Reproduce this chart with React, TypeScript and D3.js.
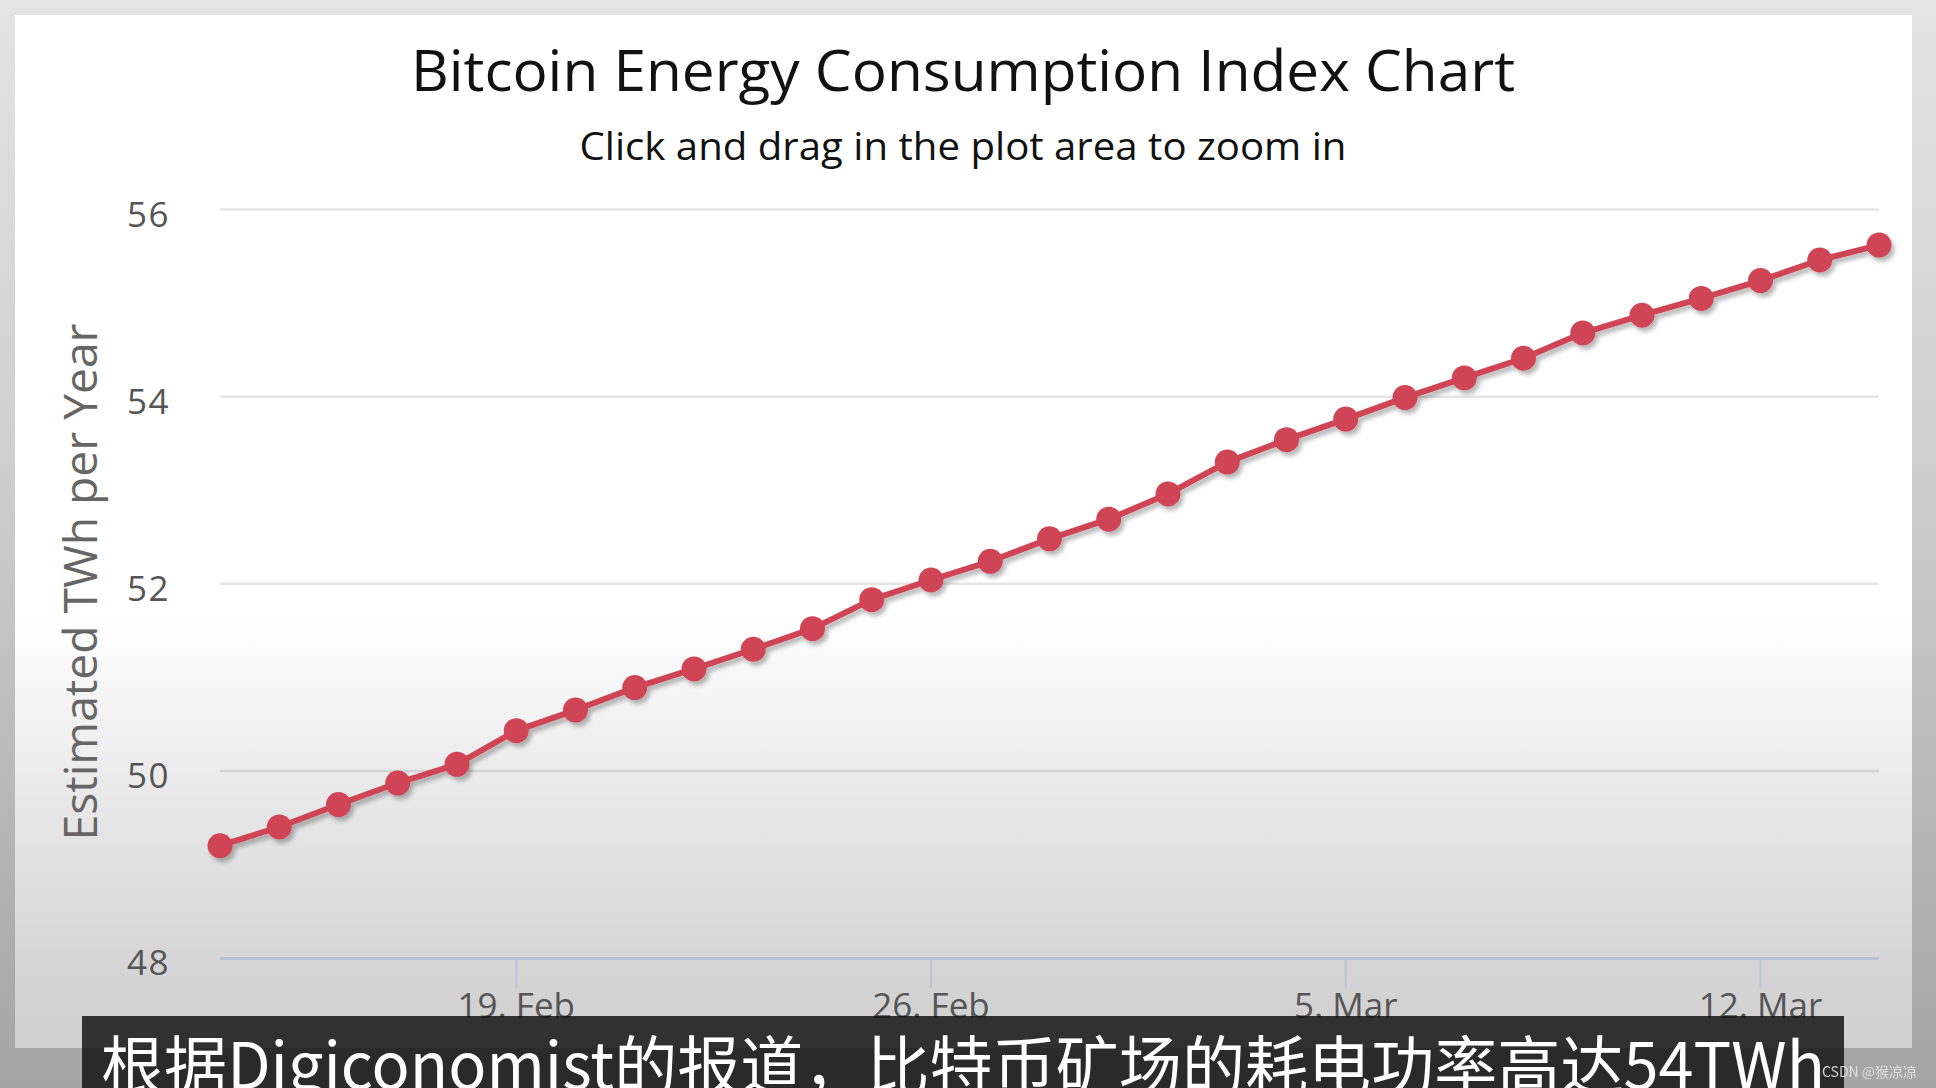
import React from "react";
import * as d3 from "d3";

const startDate = "2018-02-14";
const energyTWh = [
  49.2, 49.4, 49.64, 49.87, 50.07, 50.43, 50.65, 50.89, 51.09, 51.3,
  51.52, 51.83, 52.04, 52.24, 52.48, 52.69, 52.96, 53.3, 53.54, 53.76,
  53.99, 54.2, 54.41, 54.68, 54.87, 55.05, 55.24, 55.46, 55.62,
];
const yTicks = [48, 50, 52, 54, 56];
const xTickDates = ["2018-02-19", "2018-02-26", "2018-03-05", "2018-03-12"];
const titleText = "Bitcoin Energy Consumption Index Chart";
const subtitleText = "Click and drag in the plot area to zoom in";
const yAxisTitle = "Estimated TWh per Year";
const captionText = "根据Digiconomist的报道，比特币矿场的耗电功率高达54TWh";
const watermark = "CSDN @猴凉凉";

const W = 1936;
const H = 1088;
const FONT = "'Open Sans', 'Noto Sans', sans-serif";

export default function App() {
  const parse = d3.utcParse("%Y-%m-%d");
  const start = parse(startDate) as Date;
  const data = energyTWh.map((v, i) => ({ date: d3.utcDay.offset(start, i), v }));
  const x = d3
    .scaleUtc()
    .domain([data[0].date, data[data.length - 1].date])
    .range([220, 1879]);
  const y = d3.scaleLinear().domain([48, 56]).range([958, 209.5]);
  const line = d3
    .line<{ date: Date; v: number }>()
    .x((d) => x(d.date))
    .y((d) => y(d.v));
  const fmt = d3.utcFormat("%-d. %b");
  const color = "#cf4556";

  return (
    <svg
      width={W}
      height={H}
      style={{ position: "fixed", left: 0, top: 0, display: "block" }}
    >
      <defs>
        <linearGradient id="outer" x1="0" y1="0" x2="0" y2="1">
          <stop offset="0" stopColor="#e4e4e4" />
          <stop offset="0.45" stopColor="#cdcdcd" />
          <stop offset="1" stopColor="#a4a4a4" />
        </linearGradient>
        <linearGradient id="panel" x1="0" y1="0" x2="0" y2="1">
          <stop offset="0" stopColor="#ffffff" />
          <stop offset="0.58" stopColor="#ffffff" />
          <stop offset="0.73" stopColor="#ececec" />
          <stop offset="0.91" stopColor="#d6d6d6" />
          <stop offset="1" stopColor="#cfcfcf" />
        </linearGradient>
        <filter id="shadow" x="-5%" y="-5%" width="110%" height="120%">
          <feDropShadow dx="3" dy="4" stdDeviation="2" floodColor="#000" floodOpacity="0.28" />
        </filter>
      </defs>
      <rect x={0} y={0} width={W} height={H} fill="url(#outer)" />
      <rect x={15} y={15} width={1897} height={1033} fill="url(#panel)" />

      <text
        x={963}
        y={91}
        textAnchor="middle"
        fontFamily={FONT}
        fontSize={56}
        fill="#111"
        textLength={1104}
        lengthAdjust="spacingAndGlyphs"
      >
        {titleText}
      </text>
      <text
        x={963}
        y={160}
        textAnchor="middle"
        fontFamily={FONT}
        fontSize={38}
        fill="#111"
        textLength={767}
        lengthAdjust="spacingAndGlyphs"
      >
        {subtitleText}
      </text>

      {yTicks.map((t) =>
        t === 48 ? null : (
          <line
            key={"g" + t}
            x1={220}
            x2={1879}
            y1={y(t)}
            y2={y(t)}
            stroke="#000"
            strokeOpacity={0.1}
            strokeWidth={2.5}
          />
        )
      )}
      {yTicks.map((t) => (
        <text
          key={"yl" + t}
          x={170}
          y={y(t) + 17}
          textAnchor="end"
          fontFamily={FONT}
          fontSize={35}
          fill="#555"
          letterSpacing={1.5}
        >
          {t}
        </text>
      ))}
      <text
        transform={`translate(97,582) rotate(-90)`}
        textAnchor="middle"
        fontFamily={FONT}
        fontSize={45}
        fill="#666"
        textLength={517}
        lengthAdjust="spacingAndGlyphs"
      >
        {yAxisTitle}
      </text>

      <line x1={220} x2={1879} y1={958.5} y2={958.5} stroke="#b9c2d6" strokeWidth={3} />
      {xTickDates.map((s) => {
        const d = parse(s) as Date;
        return (
          <g key={s}>
            <line x1={x(d)} x2={x(d)} y1={958} y2={988} stroke="#b9c2d6" strokeWidth={2} />
            <text
              x={x(d)}
              y={1018}
              textAnchor="middle"
              fontFamily={FONT}
              fontSize={35}
              fill="#555"
            >
              {fmt(d)}
            </text>
          </g>
        );
      })}

      <g filter="url(#shadow)">
        <path d={line(data) || ""} fill="none" stroke={color} strokeWidth={6} strokeLinejoin="round" />
        {data.map((d, i) => (
          <circle key={i} cx={x(d.date)} cy={y(d.v)} r={12.5} fill={color} />
        ))}
      </g>

      <rect x={82} y={1016} width={1762} height={72} fill="rgba(22,22,22,0.86)" />
      <text
        x={101}
        y={1089}
        fontFamily="'Noto Sans CJK SC', sans-serif"
        fontSize={64}
        fill="#fff"
        textLength={1724}
        lengthAdjust="spacingAndGlyphs"
      >
        {captionText}
      </text>
      <text
        x={1822}
        y={1077}
        fontFamily="'Noto Sans CJK SC', sans-serif"
        fontSize={14}
        fill="#e8e8e8"
        opacity={0.85}
      >
        {watermark}
      </text>
    </svg>
  );
}
